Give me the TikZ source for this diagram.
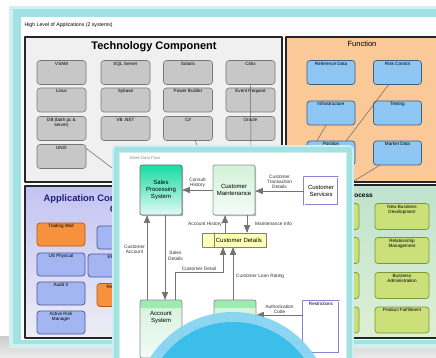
\documentclass[tikz,border=0pt]{standalone}
\usepackage{fontspec}
\setmainfont{Liberation Sans}
\usetikzlibrary{arrows,positioning,shadows}
\definecolor{glowcyan}{rgb}{0.64,0.886,0.886}
\definecolor{techfill}{rgb}{0.94,0.94,0.94}
\definecolor{techgray}{rgb}{0.78,0.78,0.78}
\definecolor{techedge}{rgb}{0.47,0.47,0.47}
\definecolor{funcfill}{rgb}{0.984,0.784,0.596}
\definecolor{funcblue}{rgb}{0.56,0.78,0.957}
\definecolor{funcedge}{rgb}{0.25,0.37,0.5}
\definecolor{apptop}{rgb}{0.765,0.765,0.953}
\definecolor{appbot}{rgb}{0.93,0.93,0.96}
\definecolor{appblue}{rgb}{0.64,0.714,0.95}
\definecolor{appedge}{rgb}{0.29,0.33,0.63}
\definecolor{apporange}{rgb}{0.97,0.57,0.24}
\definecolor{orangeedge}{rgb}{0.71,0.35,0.08}
\definecolor{appnavy}{rgb}{0.12,0.12,0.47}
\definecolor{proctop}{rgb}{0.75,0.89,0.81}
\definecolor{procbot}{rgb}{0.87,0.94,0.83}
\definecolor{procgreen}{rgb}{0.8,0.88,0.48}
\definecolor{procedge}{rgb}{0.48,0.6,0.2}
\definecolor{spstop}{rgb}{0.09,0.86,0.63}
\definecolor{spsbot}{rgb}{0.89,0.98,0.96}
\definecolor{cmtop}{rgb}{0.83,0.95,0.85}
\definecolor{cmbot}{rgb}{0.95,0.99,0.97}
\definecolor{storeyellow}{rgb}{1,1,0.71}
\definecolor{csedge}{rgb}{0.52,0.52,0.84}
\definecolor{bandgreen}{rgb}{0.61,0.925,0.69}
\definecolor{ringblue}{rgb}{0.53,0.83,0.95}
\definecolor{discblue}{rgb}{0.21,0.74,0.92}
\newcommand{\boxfont}{\fontsize{4.6}{5.2}\selectfont}
\newcommand{\flowfont}{\fontsize{4.8}{5.3}\selectfont}
\newcommand{\namefont}{\fontsize{6}{6.8}\selectfont}

\tikzset{
  blockframe/.style={draw=black!85,line width=1.6pt},
  boxlabel/.style={anchor=north,font=\boxfont,align=center,inner sep=1.6pt},
  techbox/.style={draw=techedge,fill=techgray,rounded corners=3pt,line width=0.6pt,
    minimum width=49pt,minimum height=24pt},
  funcbox/.style={draw=funcedge,fill=funcblue,rounded corners=3pt,line width=0.7pt,
    minimum width=48pt,minimum height=24pt},
  appbox/.style={draw=appedge,fill=appblue,rounded corners=3pt,line width=0.7pt,
    minimum width=48pt,minimum height=23pt},
  orangebox/.style={appbox,draw=orangeedge,fill=apporange},
  procbox/.style={draw=procedge,fill=procgreen,rounded corners=3pt,line width=0.7pt,
    minimum width=54pt,minimum height=26pt},
  link/.style={draw=black!60,line width=0.5pt},
  sysbox/.style={rounded corners=2pt,draw=black!55,line width=0.8pt,
    minimum width=42pt,minimum height=50pt,font=\namefont,align=center,
    drop shadow={shadow xshift=1.2pt,shadow yshift=-1.2pt,fill=black!60}},
  storebox/.style={draw=csedge,double=white,double distance=0.8pt,fill=white,
    line width=0.6pt,font=\namefont,align=center,
    drop shadow={shadow xshift=1.2pt,shadow yshift=-1.2pt,fill=csedge}},
  bandbox/.style={rounded corners=2pt,draw=black!45,line width=0.7pt,
    top color=cmtop,bottom color=cmbot,minimum width=42pt,minimum height=58pt,
    path picture={\fill[bandgreen] (path picture bounding box.north west)
      rectangle ([yshift=-8pt]path picture bounding box.north east);}},
  dataflow/.style={->,draw=black!55,line width=0.7pt},
  flowlabel/.style={font=\flowfont,align=center,inner sep=0.8pt,text=black!80}
}

\begin{document}
\begin{tikzpicture}[line cap=round,line join=round,>=triangle 45,x=1pt,y=1pt]
\useasboundingbox (0,0) rectangle (436,-358);
\clip (0,0) rectangle (436,-358);
% back slide
\fill[white] (0,0) rectangle (436,-358);
\shade[top color=gray!40,bottom color=gray!15] (0,-336) rectangle (436,-358);
\fill[glowcyan!50] (9,-6) rectangle (470,-348);
\fill[glowcyan] (13,-9) rectangle (470,-344);
\fill[white] (21,-17) rectangle (470,-340);
\node[font=\fontsize{5.2}{6}\selectfont,anchor=west] (slidetitle) at (21,-25) {High Level of Applications (2 systems)};

% technology component
\draw[blockframe,fill=techfill] (25,-37) rectangle (282,-182);
\node[font=\bfseries\fontsize{11}{12}\selectfont] (techtitle) at (154,-47) {Technology Component};
\node[techbox,label={[boxlabel]north:VSAM}] (vsam) at (61.5,-72.5) {};
\node[techbox,label={[boxlabel]north:SQL Server}] (sqlserver) at (125.5,-72.5) {};
\node[techbox,label={[boxlabel]north:Solaris}] (solaris) at (188,-72.5) {};
\node[techbox,label={[boxlabel]north:Citrix}] (citrix) at (250.5,-72.5) {};
\node[techbox,label={[boxlabel]north:Linux}] (linux) at (61.5,-100) {};
\node[techbox,label={[boxlabel]north:Sybase}] (sybase) at (125.5,-100) {};
\node[techbox,label={[boxlabel]north:Power Builder}] (powerbuilder) at (188,-100) {};
\node[techbox,label={[boxlabel]north:Event Request}] (eventreq) at (250.5,-100) {};
\node[techbox,label={[boxlabel]north:DB (both pc \&\\server)}] (dbboth) at (61.5,-128.5) {};
\node[techbox,label={[boxlabel]north:VB .NET}] (vbnet) at (125.5,-128.5) {};
\node[techbox,label={[boxlabel]north:C\#}] (csharp) at (188,-128.5) {};
\node[techbox,label={[boxlabel]north:Oracle}] (oracle) at (250.5,-128.5) {};
\node[techbox,label={[boxlabel]north:UNIX}] (unix) at (61.5,-156.5) {};
\coordinate (tailunix) at (128,-180);
\coordinate (tailcsharp) at (204,-160);
\coordinate (tailcitrix) at (251,-155);
\draw[link] ([yshift=8pt]unix.east) -- (tailunix);
\draw[link] ([xshift=7pt]csharp.south) -- (tailcsharp);
\draw[link] (citrix.south) -- (tailcitrix);

% function
\draw[blockframe,fill=funcfill] (286,-37) rectangle (450,-182);
\node[font=\fontsize{7.5}{8}\selectfont] (functitle) at (362,-44) {Function};
\node[funcbox,label={[boxlabel]north:Reference Data}] (refdata) at (331,-72.5) {};
\node[funcbox,label={[boxlabel]north:Risk Control}] (riskctl) at (397.5,-72.5) {};
\node[funcbox,label={[boxlabel]north:Infrastructure}] (infra) at (331,-113) {};
\node[funcbox,label={[boxlabel]north:Testing}] (testing) at (397.5,-113) {};
\node[funcbox,label={[boxlabel]north:Position\\Aggregation}] (posagg) at (331,-153) {};
\node[funcbox,label={[boxlabel]north:Market Data}] (mktdata) at (397.5,-153) {};
\coordinate (tailmkt) at (349,-184);
\draw[link] ([xshift=-5pt]infra.south) -- ([xshift=-14pt]posagg.north);
\draw[link] ([xshift=-9pt]riskctl.south) -- ([xshift=-9pt]posagg.north east);
\draw[link] ([xshift=-18pt]mktdata.south) -- (tailmkt);

% application component
\shade[top color=apptop,bottom color=appbot] (25,-186) rectangle (284,-338);
\draw[blockframe] (25,-186) rectangle (284,-338);
\node[font=\bfseries\fontsize{9.4}{11.5}\selectfont,text=appnavy,align=center,anchor=north west] (apptitle) at (40,-191) {Application Component Catalogue\\Core};
\node[orangebox,label={[boxlabel]north:Trading Wall}] (tradingwall) at (61,-234.5) {};
\node[appbox,label={[boxlabel]north:US Physical}] (usphysical) at (61,-264.5) {};
\node[appbox,label={[boxlabel]north:Audit X}] (auditx) at (61,-293.5) {};
\node[appbox,label={[boxlabel]north:Active Risk\\Manager}] (riskmgr) at (61,-322.5) {};
\node[appbox,label={[boxlabel]north:Position\\Manager}] (posmgr) at (121,-237.5) {};
\node[appbox,label={[boxlabel]north:EFT}] (eftgw) at (112,-265.5) {};
\node[orangebox,label={[boxlabel]north:Reconciliation}] (reconcile) at (121,-295) {};

% process
\shade[top color=proctop,bottom color=procbot] (288,-185) rectangle (450,-338);
\draw[blockframe] (288,-185) rectangle (450,-338);
\node[font=\bfseries\fontsize{6.5}{7}\selectfont,anchor=west] (proctitle) at (344,-195) {Process};
\node[procbox] (procleft1) at (332,-216.5) {};
\node[procbox] (procleft2) at (332,-250.5) {};
\node[procbox] (procleft3) at (332,-285.5) {};
\node[procbox] (procleft4) at (332,-320) {};
\node[procbox,label={[boxlabel]north:New Business\\Development}] (newbiz) at (402,-216.5) {};
\node[procbox,label={[boxlabel]north:Relationship\\Management}] (relmgmt) at (402,-250.5) {};
\node[procbox,label={[boxlabel]north:Business\\Administration}] (bizadmin) at (402,-285.5) {};
\node[procbox,label={[boxlabel]north:Product Fulfillment}] (fulfil) at (402,-320) {};

% front slide
\draw[line width=9pt,glowcyan!55] (116.5,-150) rectangle (349.5,-375);
\draw[line width=5pt,glowcyan] (116.5,-150) rectangle (349.5,-375);
\fill[white] (120,-153) rectangle (346,-375);
\node[font=\fontsize{4.2}{5}\selectfont,text=black!45,anchor=west] (flowtitle) at (126,-158) {Sales Data Flow};

\node[sysbox,top color=spstop,bottom color=spsbot] (sps) at (161,-190) {Sales\\Processing\\System};
\node[sysbox,top color=cmtop,bottom color=cmbot,draw=black!40] (cm) at (234,-190) {Customer\\Maintenance};
\node[storebox,minimum width=34pt,minimum height=28pt] (cs) at (321,-191) {Customer\\Services};
\node[draw=black!50,fill=storeyellow,line width=0.6pt,minimum width=64pt,minimum height=14pt,
  drop shadow={shadow xshift=1pt,shadow yshift=-1pt,fill=black!40}] (cd) at (234,-240) {};
\draw[black!50,line width=0.6pt] ([xshift=13pt]cd.north west) -- ([xshift=13pt]cd.south west);
\node[font=\namefont,anchor=west,inner sep=1pt] (cdtext) at ([xshift=13pt]cd.west) {Customer Details};
\node[bandbox] (as) at (161,-329) {};
\node[font=\namefont,align=center] (astext) at ([yshift=-18pt]as.north) {Account\\System};
\node[bandbox] (loan) at (235,-329) {};
\node[storebox,minimum width=36pt,minimum height=52pt,
  label={[boxlabel]north:Restrictions}] (rs) at (321,-327) {};

\draw[dataflow] (cm.west) -- (sps.east) node[flowlabel,midway,above=1pt] (lconsult) {Consult\\History};
\draw[dataflow] (cs.west) -- (cs.west -| cm.east) node[flowlabel,midway,above=1pt] (ltrans) {Customer\\Transaction\\Details};
\draw[dataflow] ([xshift=-9pt]cd.north) -- ([xshift=-9pt]cd.north |- cm.south) node[flowlabel,midway,left=2pt] (lhistory) {Account History};
\draw[dataflow] ([xshift=13pt]cd.north |- cm.south) -- ([xshift=13pt]cd.north) node[flowlabel,midway,right=7pt] (lmaint) {Maintenance Info};
\draw[dataflow] ([xshift=4pt]sps.south) -- ([xshift=4pt]sps.south |- as.north) node[flowlabel,pos=0.48,right=2pt] (lsales) {Sales\\Details};
\draw[dataflow] ([xshift=-14pt]as.north) -- ([xshift=-14pt]as.north |- sps.south) node[flowlabel,pos=0.6,left=1pt] (laccount) {Customer\\Account};
\draw[dataflow] ([xshift=14pt]as.north) -- ++(0,27) -| ([xshift=-11pt]cd.south) node[flowlabel,pos=0.25,above=0.5pt] (ldetail) {Customer Detail};
\draw[dataflow] ([xshift=-2pt]loan.north) -- ([xshift=-2pt]loan.north |- cd.south) node[flowlabel,pos=0.45,right=2pt] (lrating) {Customer Loan Rating};
\draw[dataflow] ([yshift=12pt]rs.west) -- ([yshift=12pt]rs.west -| loan.east) node[flowlabel,midway,above=0.5pt] (lauth) {Authorization\\Code};
\draw[dataflow] ([yshift=-15pt]rs.west) -- ([yshift=-15pt]rs.west -| loan.east) node[flowlabel,midway,above=0.5pt] (lrates) {Rates};
\draw[dataflow] ([yshift=-14pt]as.east) -- ([yshift=-14pt]as.east -| loan.west) node[flowlabel,midway,above=0.5pt] (lloan) {Loan\\Details\\Request};

% disc
\fill[ringblue,fill opacity=0.95] (233,-410) circle (98);
\fill[discblue,fill opacity=0.93] (233,-410) circle (88);
\end{tikzpicture}
\end{document}
